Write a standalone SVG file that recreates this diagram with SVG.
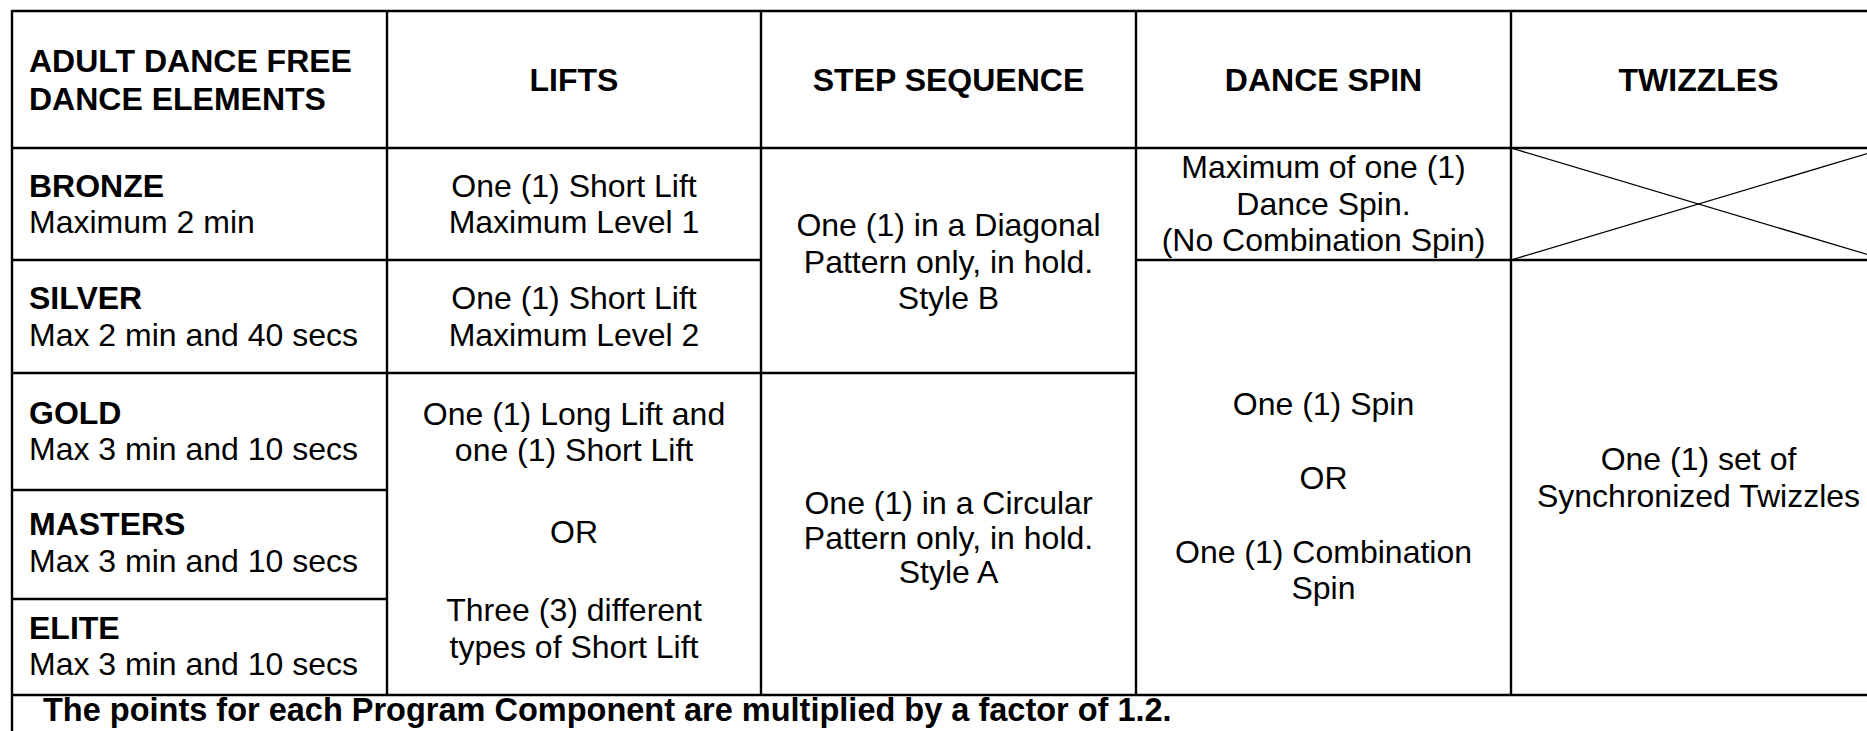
<svg xmlns="http://www.w3.org/2000/svg" width="1867" height="731" viewBox="0 0 1867 731">
<style>
  .t{font-family:"Liberation Sans",Arial,Helvetica,sans-serif;font-size:32px;fill:#000}
  .b{font-weight:bold}
  .c{text-anchor:middle}
  .grid line{stroke:#000;stroke-width:2.4}
  .x line{stroke:#000;stroke-width:1.3}
</style>
<rect x="0" y="0" width="1867" height="731" fill="#fff"/>
<g id="grid" class="grid">
  <line x1="12" y1="11" x2="1890" y2="11"/>
  <line x1="12" y1="148" x2="1890" y2="148"/>
  <line x1="12" y1="260" x2="761" y2="260"/>
  <line x1="1136" y1="260" x2="1890" y2="260"/>
  <line x1="12" y1="373" x2="1136" y2="373"/>
  <line x1="12" y1="490" x2="387" y2="490"/>
  <line x1="12" y1="599" x2="387" y2="599"/>
  <line x1="12" y1="695" x2="1890" y2="695"/>
  <line x1="12" y1="10" x2="12" y2="740"/>
  <line x1="387" y1="10" x2="387" y2="695"/>
  <line x1="761" y1="10" x2="761" y2="695"/>
  <line x1="1136" y1="10" x2="1136" y2="695"/>
  <line x1="1511" y1="10" x2="1511" y2="695"/>
</g>
<g id="header">
  <text class="t b" x="29" y="72">ADULT DANCE FREE</text>
  <text class="t b" x="29" y="110">DANCE ELEMENTS</text>
  <text class="t b c" x="574" y="91">LIFTS</text>
  <text class="t b c" x="948.5" y="91">STEP SEQUENCE</text>
  <text class="t b c" x="1323.5" y="91">DANCE SPIN</text>
  <text class="t b c" x="1698.5" y="91">TWIZZLES</text>
</g>
<g id="bronze">
  <text class="t b" x="29" y="197">BRONZE</text>
  <text class="t" x="29" y="233">Maximum 2 min</text>
</g>
<g id="silver">
  <text class="t b" x="29" y="309">SILVER</text>
  <text class="t" x="29" y="346">Max 2 min and 40 secs</text>
</g>
<g id="gold">
  <text class="t b" x="29" y="424">GOLD</text>
  <text class="t" x="29" y="460">Max 3 min and 10 secs</text>
</g>
<g id="masters">
  <text class="t b" x="29" y="535">MASTERS</text>
  <text class="t" x="29" y="572">Max 3 min and 10 secs</text>
</g>
<g id="elite">
  <text class="t b" x="29" y="639">ELITE</text>
  <text class="t" x="29" y="675">Max 3 min and 10 secs</text>
</g>
<g id="lifts-bronze">
  <text class="t c" x="574" y="197">One (1) Short Lift</text>
  <text class="t c" x="574" y="233">Maximum Level 1</text>
</g>
<g id="lifts-silver">
  <text class="t c" x="574" y="309">One (1) Short Lift</text>
  <text class="t c" x="574" y="346">Maximum Level 2</text>
</g>
<g id="lifts-gold">
  <text class="t c" x="574" y="425">One (1) Long Lift and</text>
  <text class="t c" x="574" y="461">one (1) Short Lift</text>
  <text class="t c" x="574" y="543">OR</text>
  <text class="t c" x="574" y="621">Three (3) different</text>
  <text class="t c" x="574" y="658">types of Short Lift</text>
</g>
<g id="step-b">
  <text class="t c" x="948.5" y="236">One (1) in a Diagonal</text>
  <text class="t c" x="948.5" y="273">Pattern only, in hold.</text>
  <text class="t c" x="948.5" y="309">Style B</text>
</g>
<g id="step-a">
  <text class="t c" x="948.5" y="514">One (1) in a Circular</text>
  <text class="t c" x="948.5" y="549">Pattern only, in hold.</text>
  <text class="t c" x="948.5" y="583">Style A</text>
</g>
<g id="spin-bronze">
  <text class="t c" x="1323.5" y="178">Maximum of one (1)</text>
  <text class="t c" x="1323.5" y="215">Dance Spin.</text>
  <text class="t c" x="1323.5" y="251">(No Combination Spin)</text>
</g>
<g id="spin-other">
  <text class="t c" x="1323.5" y="415">One (1) Spin</text>
  <text class="t c" x="1323.5" y="489">OR</text>
  <text class="t c" x="1323.5" y="563">One (1) Combination</text>
  <text class="t c" x="1323.5" y="599">Spin</text>
</g>
<g id="twizzles-bronze" class="x">
  <line x1="1511" y1="148" x2="1886" y2="260"/>
  <line x1="1511" y1="260" x2="1886" y2="148"/>
</g>
<g id="twizzles-other">
  <text class="t c" x="1698.5" y="470">One (1) set of</text>
  <text class="t c" x="1698.5" y="507">Synchronized Twizzles</text>
</g>
<g id="footer">
  <text class="t b" x="43" y="721" style="font-size:32.5px">The points for each Program Component are multiplied by a factor of 1.2.</text>
</g>
</svg>
